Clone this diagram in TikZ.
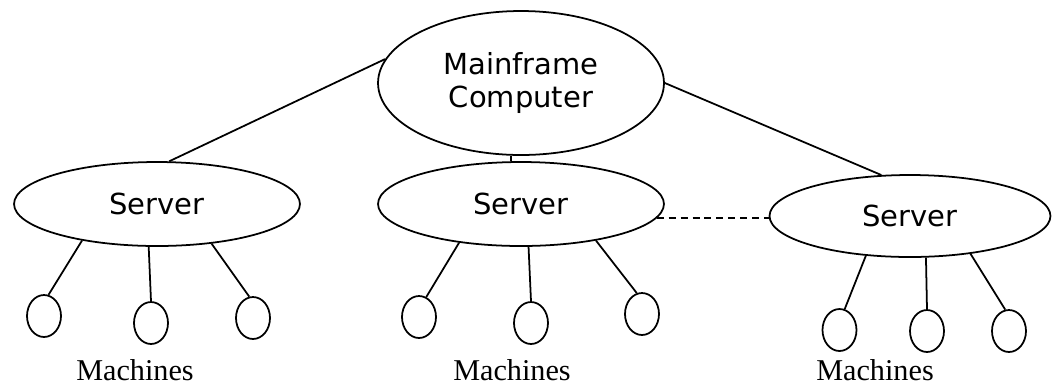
\documentclass[tikz,border=0pt]{standalone}
\usepackage{fontspec}
\setmainfont{Liberation Serif}
\newfontfamily\boxfont{DejaVu Sans}
\usetikzlibrary{shapes.geometric}

\begin{document}
\begin{tikzpicture}[x=0.02cm,y=-0.02cm,line width=1pt,
  unit/.style={draw,ellipse,inner sep=0pt,align=center,font=\boxfont\fontsize{16.5}{18.8}\selectfont},
  server/.style={unit,minimum width=5.72cm,minimum height=1.68cm},
  machine/.style={draw,ellipse,inner sep=0pt,minimum width=0.68cm,minimum height=0.84cm},
  group/.style={anchor=base,font=\fontsize{17.2}{19}\selectfont}]
\useasboundingbox (0,0) rectangle (1052,387);
\node[unit,minimum width=5.72cm,minimum height=2.88cm] (main) at (521,83) {Mainframe\\Computer};
\node[server] (s1) at (157,204) {Server};
\node[server] (s2) at (521,204) {Server};
\node[server,minimum width=5.62cm,minimum height=1.64cm] (s3) at (910,216) {Server};
\node[machine] (m11) at (44,316) {};
\node[machine] (m12) at (151,323) {};
\node[machine] (m13) at (253,318) {};
\node[machine] (m21) at (419,317) {};
\node[machine] (m22) at (531,323) {};
\node[machine] (m23) at (642,314) {};
\node[machine] (m31) at (839.5,330) {};
\node[machine] (m32) at (927,331) {};
\node[machine] (m33) at (1009,331) {};
\node[group] (g1) at (135,380) {Machines};
\node[group] (g2) at (512,380) {Machines};
\node[group] (g3) at (875,380) {Machines};
\draw (main.170) -- (s1.74);
\draw (main.262) -- (main.262 |- s2.north);
\draw (main.east) -- (s3.125);
\draw[dash pattern=on 4pt off 2.8pt] (s2.354) -- (s2.354 -| s3.west);
\draw (s1.206) -- (m11.78);
\draw (s1.259) -- (m12.north);
\draw (s1.324) -- (m13.100);
\draw (s2.212) -- (m21.70);
\draw (s2.280) -- (m22.north);
\draw (s2.334) -- (m23.104);
\draw (s3.222) -- (m31.76);
\draw (s3.291) -- (m32.north);
\draw (s3.328) -- (m33.100);
\end{tikzpicture}
\end{document}
